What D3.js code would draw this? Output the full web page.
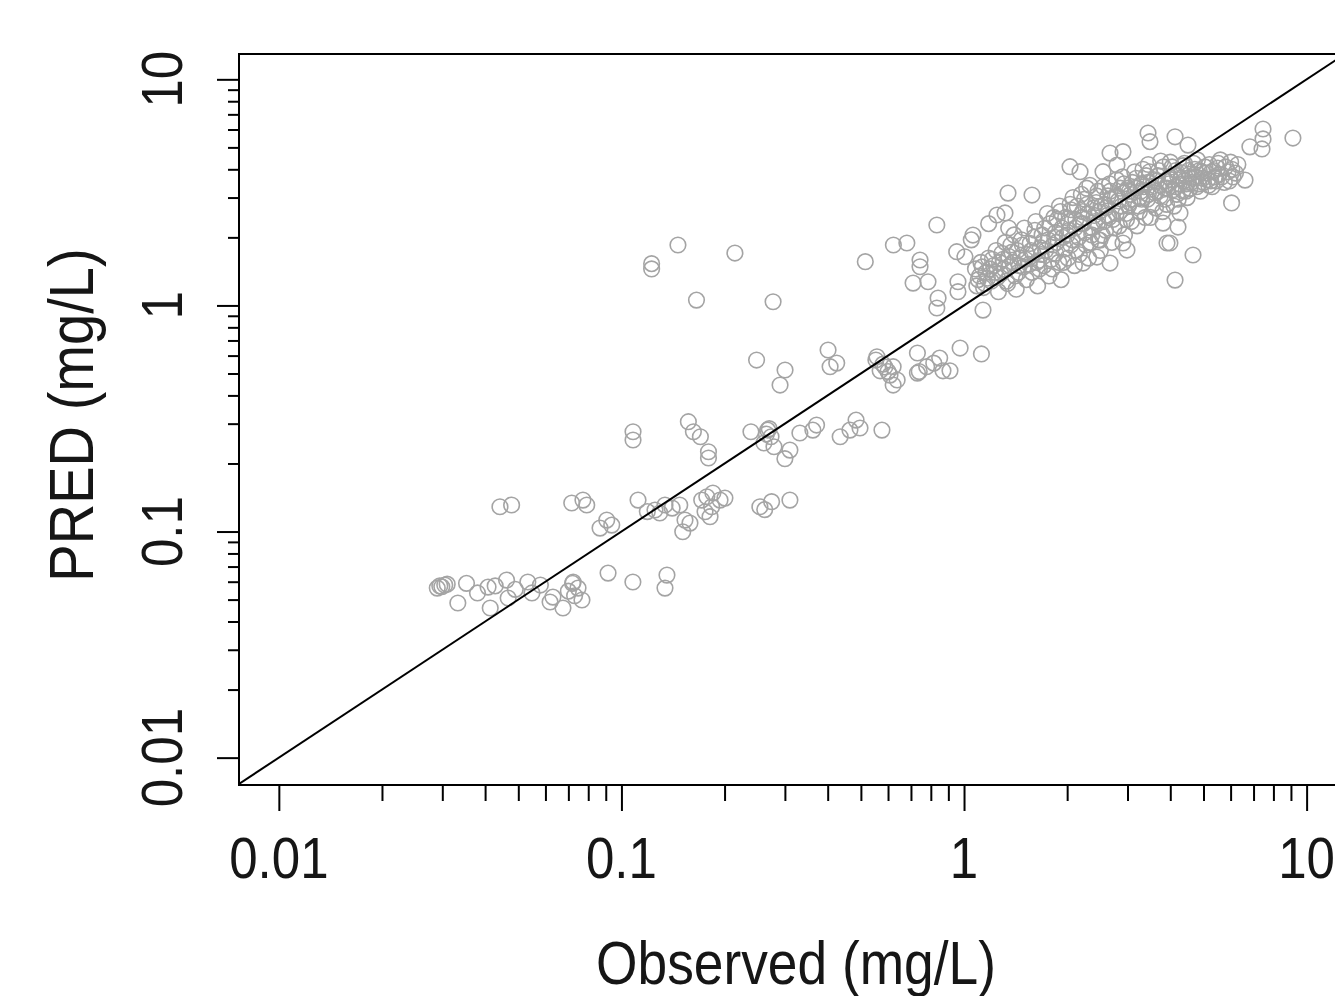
<!DOCTYPE html>
<html>
<head>
<meta charset="utf-8">
<script src="https://cdn.jsdelivr.net/npm/d3@7"></script>
<style>
  html, body { margin: 0; padding: 0; background: #ffffff; }
  svg { display: block; }
  text { font-family: "Liberation Sans", Arial, sans-serif; fill: #161616; }
</style>
</head>
<body>
<svg id="chart" width="1335" height="996"></svg>
<script>
// ---------------- DATA ----------------
const xTickValues = [0.01, 0.1, 1, 10];
const xTickLabels = ["0.01", "0.1", "1", "10"];
const yTickValues = [0.01, 0.1, 1, 10];
const yTickLabels = ["0.01", "0.1", "1", "10"];
const minorMultipliers = [2, 3, 4, 5, 6, 7, 8, 9];
const minorDecades = [0.01, 0.1, 1];
const xTitle = "Observed (mg/L)";
const yTitle = "PRED (mg/L)";

// [Observed, PRED] pairs, grouped by region
const lowCluster = [
  [0.0299,0.0570],[0.0305,0.0580],[0.0290,0.0562],[0.0310,0.0585],[0.0295,0.0575],
  [0.0353,0.0590],[0.0333,0.0483],[0.0408,0.0568],[0.0428,0.0575],[0.0414,0.0459],
  [0.0462,0.0610],[0.0467,0.0508],[0.0533,0.0598],[0.0548,0.0535],[0.0619,0.0488],
  [0.0631,0.0513],[0.0723,0.0598],[0.0720,0.0590],[0.0747,0.0562],[0.0675,0.0459],
  [0.0767,0.0498],[0.0914,0.0655],[0.108,0.0598],[0.1358,0.0642],[0.134,0.0562],
  [0.038,0.0535],[0.049,0.0555],[0.058,0.058],[0.070,0.0545],[0.073,0.052]
];
const rowTenth = [
  [0.0442,0.1287],[0.0478,0.131],[0.0716,0.1337],[0.0772,0.1378],[0.0792,0.131],
  [0.0866,0.1036],[0.0906,0.1124],[0.0937,0.1068],[0.1118,0.1378],[0.1253,0.1245],
  [0.134,0.131],[0.1406,0.127],[0.148,0.131],[0.1294,0.1208],[0.119,0.1225],
  [0.1533,0.1124],[0.151,0.0998],[0.1585,0.109],[0.1715,0.1378],[0.1775,0.1425],
  [0.1834,0.1287],[0.1849,0.148],[0.194,0.1378],[0.1814,0.1163],[0.1754,0.1223],
  [0.2005,0.1406],[0.2536,0.1287],[0.262,0.125],[0.2744,0.1355],[0.3103,0.1378]
];
const rowQuarter = [
  [0.1081,0.2763],[0.1081,0.254],[0.1568,0.306],[0.1622,0.2763],[0.170,0.2626],
  [0.1795,0.2254],[0.1795,0.2115],[0.2388,0.2763],[0.2672,0.281],[0.2733,0.2626],
  [0.2606,0.2463],[0.2788,0.2371],[0.3103,0.2293],[0.30,0.21],[0.3318,0.2727],
  [0.362,0.281],[0.3712,0.2958],[0.435,0.2626],[0.4645,0.281],[0.497,0.287],
  [0.484,0.311],[0.576,0.281],[0.265,0.27],[0.27,0.285]
];
const rowHalf = [
  [0.248,0.5735],[0.3003,0.518],[0.2904,0.4446],[0.401,0.635],[0.4065,0.5357],
  [0.425,0.556],[0.553,0.5735],[0.5875,0.534],[0.608,0.492],[0.621,0.4446],
  [0.569,0.514],[0.638,0.468],[0.557,0.593],[0.621,0.5357],[0.731,0.616],
  [0.731,0.502],[0.74,0.51],[0.778,0.5357],[0.849,0.585],[0.868,0.514],
  [0.91,0.514],[0.974,0.648],[0.816,0.5556],[1.124,0.61],[0.58,0.55],[0.60,0.51]
];
const scattered = [
  [0.1225,1.45],[0.1225,1.53],[0.1462,1.85],[0.2144,1.705],[0.1656,1.056],
  [0.2771,1.038],[0.515,1.561],[0.622,1.85],[0.681,1.888],[0.744,1.588],
  [0.744,1.483],[0.71,1.256],[0.785,1.273],[0.833,2.268],[0.84,1.078],
  [0.833,0.974],[0.952,1.728],[1.006,1.642],[0.96,1.273],[0.96,1.15],
  [1.062,2.048],[1.136,0.954],[1.344,3.14],[1.579,3.078],[1.317,2.564],
  [1.248,2.512],[2.039,4.107],[2.181,3.903],[2.668,4.72],[2.911,4.785],
  [2.545,3.903],[2.796,4.178],[3.444,5.79],[3.49,5.3],[4.13,5.57],
  [4.505,5.12],[7.46,6.03],[7.46,5.45],[6.83,5.03],[7.41,4.92],
  [9.12,5.5],[6.61,3.585],[6.04,2.84],[4.66,1.671],[4.13,1.295],
  [3.99,1.888],[4.356,3.213],[4.566,3.28],[2.494,1.945],[2.668,1.54],
  [2.911,1.888],[2.99,1.758],[2.226,1.54],[2.443,1.637],[3.913,1.888],
  [3.81,2.314],[4.213,2.222],[4.27,2.564],[1.18,2.3],[1.35,2.2],[1.05,1.95]
];
const denseBand = [
  [1.08,1.45],[1.10,1.30],[1.12,1.55],[1.14,1.20],[1.16,1.40],[1.18,1.62],[1.20,1.28],
  [1.22,1.50],[1.24,1.75],[1.26,1.15],[1.28,1.38],[1.30,1.60],[1.32,1.90],[1.34,1.25],
  [1.36,1.50],[1.38,1.72],[1.40,2.05],[1.42,1.18],[1.44,1.40],[1.46,1.62],[1.48,1.85],
  [1.50,2.20],[1.52,1.30],[1.55,1.52],[1.57,1.75],[1.60,2.00],[1.62,2.35],[1.64,1.22],
  [1.66,1.45],[1.68,1.68],[1.70,1.92],[1.72,2.20],[1.75,2.55],[1.77,1.35],[1.80,1.60],
  [1.82,1.85],[1.85,2.10],[1.87,2.40],[1.90,2.75],[1.92,1.30],[1.95,1.55],[1.97,1.78],
  [2.00,2.05],[2.02,2.35],[2.05,2.65],[2.08,3.00],[2.10,1.50],[2.13,1.75],[2.16,2.00],
  [2.19,2.30],[2.22,2.60],[2.25,2.95],[2.28,3.30],[2.31,1.62],[2.34,1.90],[2.37,2.20],
  [2.40,2.50],[2.43,2.85],[2.46,3.20],[2.50,1.75],[2.53,2.05],[2.56,2.35],[2.60,2.70],
  [2.63,3.05],[2.66,3.45],[2.70,1.90],[2.74,2.20],[2.78,2.55],[2.82,2.90],[2.86,3.30],
  [2.90,3.70],[2.94,2.05],[2.98,2.40],[3.02,2.75],[3.06,3.10],[3.10,3.50],[3.15,3.90],
  [3.20,2.25],[3.25,2.60],[3.30,2.95],[3.35,3.35],[3.40,3.75],[3.45,4.20],[3.50,2.45],
  [3.55,2.80],[3.60,3.15],[3.65,3.55],[3.70,3.95],[3.75,4.35],[3.80,2.60],[3.86,2.95],
  [3.92,3.30],[3.98,3.70],[4.05,4.10],[4.10,2.75],[4.18,3.10],[4.25,3.45],[4.32,3.85],
  [4.40,4.25],[4.48,3.00],[4.56,3.30],[4.64,3.65],[4.72,4.00],[4.80,4.40],[4.90,3.20],
  [5.00,3.50],[5.10,3.85],[5.20,4.20],[5.30,3.35],[5.40,3.70],[5.50,4.05],[5.60,4.40],
  [5.75,3.50],[5.90,3.90],[6.00,4.30],[6.10,3.70],
  [1.11,1.35],[1.19,1.45],[1.27,1.55],[1.35,1.65],[1.43,1.75],[1.51,1.60],[1.59,1.70],
  [1.67,1.80],[1.76,1.95],[1.84,2.00],[1.93,2.20],[2.03,2.15],[2.12,2.40],[2.21,2.45],
  [2.30,2.55],[2.39,2.70],[2.48,2.60],[2.58,2.80],[2.68,2.95],[2.80,3.05],[2.92,3.15],
  [3.04,3.20],[3.17,3.30],[3.30,3.45],[3.44,3.50],[3.58,3.60],[3.72,3.40],[3.88,3.55],
  [4.03,3.60],[4.20,3.75],[4.38,3.55],[4.55,3.80],[4.75,3.70],[4.95,3.90],[5.15,3.60],
  [5.35,3.95],[5.55,3.80],[1.15,1.25],[1.25,1.33],[1.45,1.50],[1.65,1.58],[1.85,1.70],
  [2.05,1.85],[2.25,2.10],[2.45,2.30],[2.65,2.45],[2.85,2.60],[3.05,2.85],[3.25,3.00],
  [3.45,3.10],[3.65,3.20],[3.85,3.30],[4.15,3.35],[4.45,3.45],[4.85,3.45],[5.25,3.55]
];
const denseBandExtra = [
  [1.09,1.22],[1.13,1.48],[1.17,1.32],[1.21,1.60],[1.23,1.40],[1.29,1.70],[1.31,1.45],
  [1.33,1.28],[1.37,1.85],[1.39,1.55],[1.41,1.35],[1.47,1.95],[1.49,1.48],[1.53,1.68],
  [1.56,1.88],[1.58,1.40],[1.61,2.15],[1.63,1.55],[1.69,2.05],[1.71,1.50],[1.73,1.75],
  [1.78,2.30],[1.81,1.45],[1.83,2.45],[1.86,1.90],[1.89,1.55],[1.91,2.60],[1.94,2.00],
  [1.98,2.45],[2.01,1.62],[2.04,2.80],[2.07,1.95],[2.11,2.20],[2.14,2.75],[2.17,1.68],
  [2.20,3.10],[2.23,2.30],[2.27,1.85],[2.29,2.80],[2.33,3.40],[2.36,2.05],[2.41,2.35],
  [2.44,3.05],[2.47,1.95],[2.51,2.75],[2.55,3.35],[2.59,2.15],[2.62,2.50],[2.67,3.20],
  [2.72,2.40],[2.76,3.00],[2.79,3.60],[2.84,2.25],[2.88,2.75],[2.93,3.45],[2.97,2.55],
  [3.01,3.30],[3.08,2.35],[3.12,2.95],[3.18,3.65],[3.23,2.75],[3.28,3.20],[3.33,4.00],
  [3.38,2.45],[3.43,2.95],[3.48,3.90],[3.53,3.35],[3.62,2.70],[3.68,3.75],[3.74,3.05],
  [3.82,4.10],[3.90,2.80],[3.95,3.45],[4.00,4.30],[4.08,3.25],[4.15,3.95],[4.22,2.95],
  [4.30,3.65],[4.36,4.15],[4.45,3.20],[4.52,3.95],[4.60,3.50],[4.68,4.25],[4.78,3.35],
  [4.86,3.95],[4.98,3.65],[5.05,4.10],[5.18,3.40],[5.28,3.90],[5.45,3.55],[5.52,4.25],
  [5.65,3.70],[5.80,4.10],[5.95,3.55],[6.05,4.00],[6.20,3.85],[6.30,4.20]
];

// ---------------- CHART ----------------
const svg = d3.select("#chart");
const plot = { left: 239, top: 54, right: 1346.7, bottom: 785 };

const x = d3.scaleLog()
  .domain([Math.pow(10, -2.1163), Math.pow(10, 1.117)])
  .range([plot.left, plot.right]);
const y = d3.scaleLog()
  .domain([Math.pow(10, -2.121), Math.pow(10, 1.112)])
  .range([plot.bottom, plot.top]);

const minorTicks = [];
minorDecades.forEach(d => minorMultipliers.forEach(m => minorTicks.push(d * m)));

svg.append("defs").append("clipPath").attr("id", "plotClip")
  .append("rect")
  .attr("x", plot.left).attr("y", plot.top)
  .attr("width", plot.right - plot.left).attr("height", plot.bottom - plot.top);

// points
const allPoints = [].concat(lowCluster, rowTenth, rowQuarter, rowHalf, scattered, denseBand, denseBandExtra);
svg.append("g")
  .selectAll("circle")
  .data(allPoints)
  .join("circle")
  .attr("cx", d => x(d[0]))
  .attr("cy", d => y(d[1]))
  .attr("r", 7.8)
  .attr("fill", "none")
  .attr("stroke", "#a4a4a4")
  .attr("stroke-width", 1.6);

// identity line
const lineData = [[Math.pow(10, -2.5), Math.pow(10, -2.5)], [20, 20]];
svg.append("path")
  .datum(lineData)
  .attr("clip-path", "url(#plotClip)")
  .attr("d", d3.line().x(d => x(d[0])).y(d => y(d[1])))
  .attr("fill", "none")
  .attr("stroke", "#000")
  .attr("stroke-width", 2);

// box
svg.append("rect")
  .attr("x", plot.left).attr("y", plot.top)
  .attr("width", plot.right - plot.left).attr("height", plot.bottom - plot.top)
  .attr("fill", "none").attr("stroke", "#000").attr("stroke-width", 2);

function styleAxis(g) {
  g.select(".domain").remove();
  g.selectAll(".tick line").attr("stroke", "#000").attr("stroke-width", 2);
  g.selectAll(".tick text").remove();
}

// x axis ticks
svg.append("g").attr("transform", `translate(0,${plot.bottom})`)
  .call(d3.axisBottom(x).tickValues(xTickValues).tickSize(26).tickFormat(() => ""))
  .call(styleAxis);
svg.append("g").attr("transform", `translate(0,${plot.bottom})`)
  .call(d3.axisBottom(x).tickValues(minorTicks).tickSize(16).tickFormat(() => ""))
  .call(styleAxis);

// y axis ticks
svg.append("g").attr("transform", `translate(${plot.left},0)`)
  .call(d3.axisLeft(y).tickValues(yTickValues).tickSize(22).tickFormat(() => ""))
  .call(styleAxis);
svg.append("g").attr("transform", `translate(${plot.left},0)`)
  .call(d3.axisLeft(y).tickValues(minorTicks).tickSize(11).tickFormat(() => ""))
  .call(styleAxis);

// tick labels
svg.append("g").selectAll("text")
  .data(xTickValues)
  .join("text")
  .attr("text-anchor", "middle")
  .attr("font-size", 58)
  .attr("transform", d => `translate(${x(d)},878) scale(0.88,1)`)
  .text((d, i) => xTickLabels[i]);

svg.append("g").selectAll("text")
  .data(yTickValues)
  .join("text")
  .attr("text-anchor", "middle")
  .attr("font-size", 58)
  .attr("transform", d => `translate(182,${y(d)}) rotate(-90) scale(0.88,1)`)
  .text((d, i) => yTickLabels[i]);

// axis titles
svg.append("text")
  .attr("text-anchor", "middle")
  .attr("font-size", 62)
  .attr("transform", `translate(796,984) scale(0.86,1)`)
  .text(xTitle);

svg.append("text")
  .attr("text-anchor", "middle")
  .attr("font-size", 63)
  .attr("transform", `translate(93,415) rotate(-90) scale(0.89,1)`)
  .text(yTitle);
</script>
</body>
</html>
